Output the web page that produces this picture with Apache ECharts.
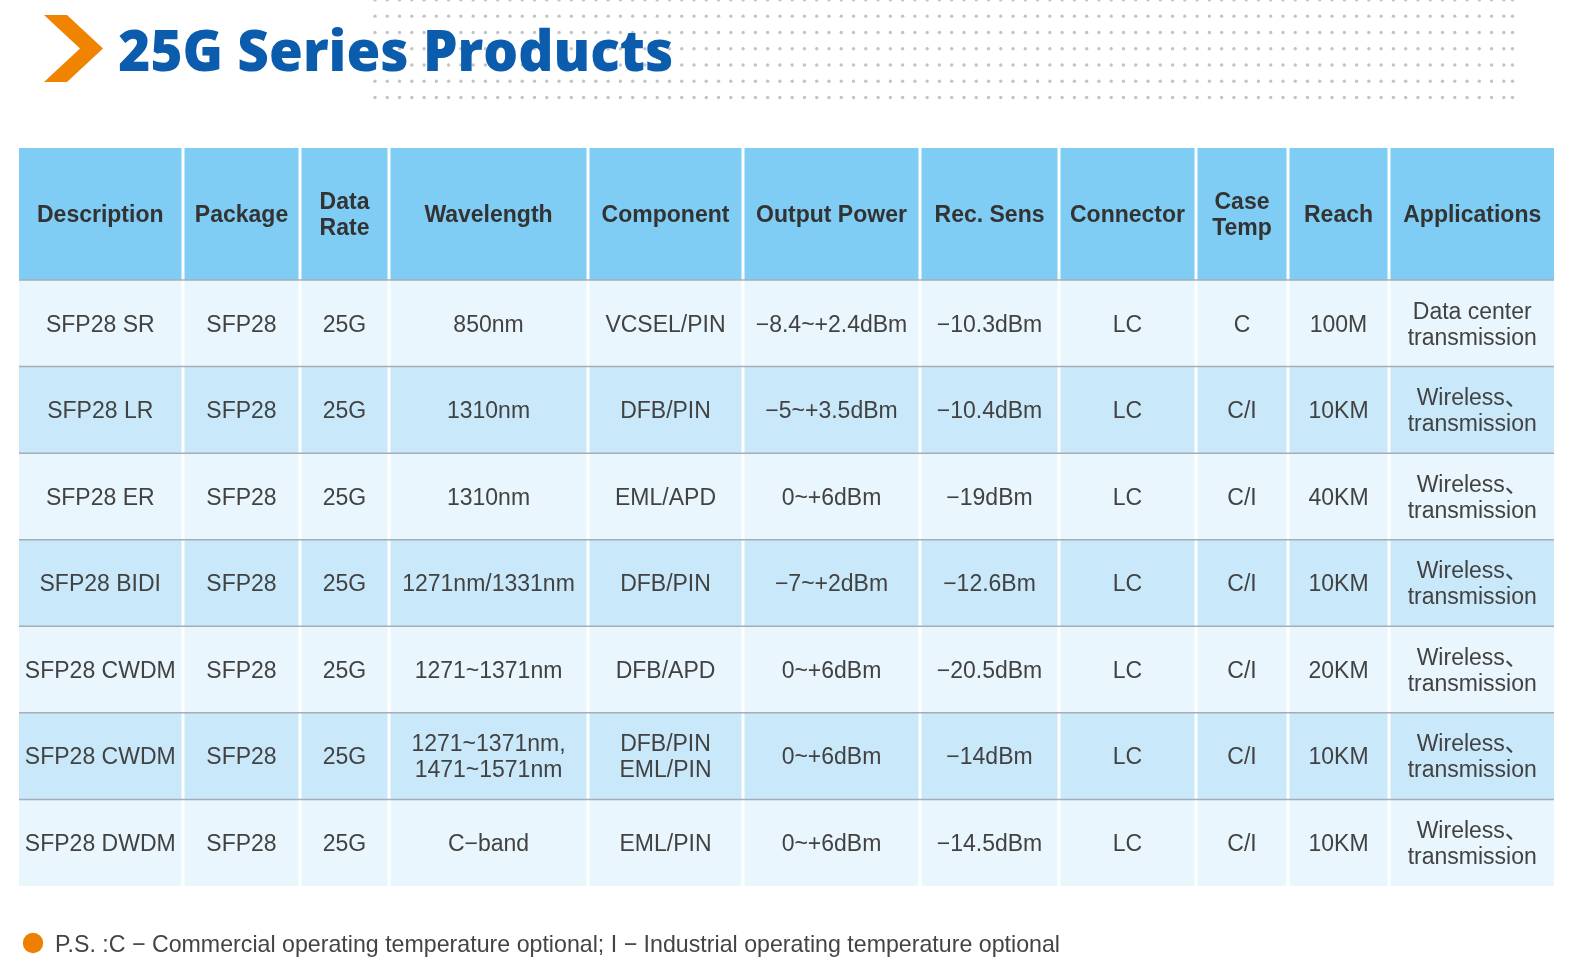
<!DOCTYPE html>
<html>
<head>
<meta charset="utf-8">
<script src="https://cdn.jsdelivr.net/npm/echarts@6/dist/echarts.min.js"></script>
<style>
html, body { margin: 0; padding: 0; background: #fff; }
#main { width: 1579px; height: 972px; }
</style>
</head>
<body>
<div id="main"></div>
<script>
// table content
var headers = ['Description', 'Package', 'Data\nRate', 'Wavelength', 'Component', 'Output Power', 'Rec. Sens', 'Connector', 'Case\nTemp', 'Reach', 'Applications'];
var description = ['SFP28 SR', 'SFP28 LR', 'SFP28 ER', 'SFP28 BIDI', 'SFP28 CWDM', 'SFP28 CWDM', 'SFP28 DWDM'];
var packageType = ['SFP28', 'SFP28', 'SFP28', 'SFP28', 'SFP28', 'SFP28', 'SFP28'];
var dataRate = ['25G', '25G', '25G', '25G', '25G', '25G', '25G'];
var wavelength = ['850nm', '1310nm', '1310nm', '1271nm/1331nm', '1271~1371nm', '1271~1371nm,\n1471~1571nm', 'C\u2212band'];
var component = ['VCSEL/PIN', 'DFB/PIN', 'EML/APD', 'DFB/PIN', 'DFB/APD', 'DFB/PIN\nEML/PIN', 'EML/PIN'];
var outputPower = ['\u22128.4~+2.4dBm', '\u22125~+3.5dBm', '0~+6dBm', '\u22127~+2dBm', '0~+6dBm', '0~+6dBm', '0~+6dBm'];
var recSens = ['\u221210.3dBm', '\u221210.4dBm', '\u221219dBm', '\u221212.6Bm', '\u221220.5dBm', '\u221214dBm', '\u221214.5dBm'];
var connector = ['LC', 'LC', 'LC', 'LC', 'LC', 'LC', 'LC'];
var caseTemp = ['C', 'C/I', 'C/I', 'C/I', 'C/I', 'C/I', 'C/I'];
var reach = ['100M', '10KM', '40KM', '10KM', '20KM', '10KM', '10KM'];
var applications = ['Data center\ntransmission', 'Wireless\u3001\ntransmission', 'Wireless\u3001\ntransmission', 'Wireless\u3001\ntransmission', 'Wireless\u3001\ntransmission', 'Wireless\u3001\ntransmission', 'Wireless\u3001\ntransmission'];

var titleText = '25G Series Products';
var noteText = 'P.S. :C \u2212 Commercial operating temperature optional; I \u2212 Industrial operating temperature optional';

var columns = [description, packageType, dataRate, wavelength, component, outputPower, recSens, connector, caseTemp, reach, applications];
var rowIds = description.map(function (d, i) { return String(i); });

// column edges in table pixels (layout only)
var colEdges = [0, 164, 281, 370, 569, 724, 901, 1040, 1177, 1269, 1370, 1535];
var GAP = 3;
var TEXT_DY = 2;
var cellFont = '23px "Liberation Sans", Arial, "Noto Sans CJK SC", sans-serif';
var headFont = 'bold 23px "Liberation Sans", Arial, sans-serif';
var titleFont = '800 56px "Open Sans"';
var noteFont = '24px "Liberation Sans", Arial, sans-serif';

var bodyData = [];
columns.forEach(function (col, c) {
    col.forEach(function (v, r) { bodyData.push([c, r]); });
});
var headData = headers.map(function (h, c) { return [c, 0]; });

function cellBox(api) {
    var c = api.value(0), r = api.value(1);
    var a = api.coord([colEdges[c], r]);
    var b = api.coord([colEdges[c + 1], r]);
    var h = api.size([0, 1])[1];
    return {
        c: c, r: r, cy: a[1], top: a[1] - h / 2, h: h, left: a[0], right: b[0],
        x0: a[0] + (c > 0 ? GAP / 2 : 0),
        x1: b[0] - (c < headers.length - 1 ? GAP / 2 : 0)
    };
}

function renderBody(params, api) {
    var b = cellBox(api);
    return {
        type: 'group',
        children: [
            { type: 'rect', shape: { x: b.x0, y: b.top, width: b.x1 - b.x0, height: b.h },
              style: { fill: b.r % 2 ? '#c9e9fb' : '#e9f6fd' } },
            { type: 'line', z2: 10, shape: { x1: b.left, y1: b.top, x2: b.right, y2: b.top },
              style: { stroke: '#a4aeb6', lineWidth: 1.5 } },
            { type: 'text', z2: 11, style: {
                text: columns[b.c][b.r], x: (b.x0 + b.x1) / 2, y: b.cy + TEXT_DY,
                align: 'center', verticalAlign: 'middle', font: cellFont,
                fill: '#424242', lineHeight: 26 } }
        ]
    };
}

function renderHead(params, api) {
    var b = cellBox(api);
    return {
        type: 'group',
        children: [
            { type: 'rect', shape: { x: b.x0, y: b.top, width: b.x1 - b.x0, height: b.h },
              style: { fill: '#7fcdf4' } },
            { type: 'text', style: {
                text: headers[b.c], x: (b.x0 + b.x1) / 2, y: b.cy + TEXT_DY,
                align: 'center', verticalAlign: 'middle', font: headFont,
                fill: '#333333', lineHeight: 26 } }
        ]
    };
}

// measure text so the title and note fit the picture
var ctx = document.createElement('canvas').getContext('2d');
ctx.textBaseline = 'middle';
ctx.font = titleFont;
var titleM = ctx.measureText('H');
var titleScale = 555 / ctx.measureText(titleText).width;
var titleY = 70.5 - titleM.actualBoundingBoxDescent;
ctx.font = noteFont;
var noteM = ctx.measureText('P');
var noteScale = 1005 / ctx.measureText(noteText).width;
var noteY = 943.5 - (noteM.actualBoundingBoxDescent - noteM.actualBoundingBoxAscent) / 2;

var dots = [];
var dotX = [];
for (var j = 0; j < 93; j++) dotX.push(375 + j * 12.27);
dotX.push(1512.5);
for (var i = 0; i < 7; i++) {
    dotX.forEach(function (x) {
        dots.push({ type: 'circle', shape: { cx: x, cy: -0.1 + i * 16.27, r: 1.7 },
                    style: { fill: '#c3c3c3' }, z: 1 });
    });
}

var graphics = dots.concat([
    { type: 'polygon', z: 5,
      shape: { points: [[44, 15], [67, 15], [103, 48.5], [67, 82], [44, 82], [80, 48.5]] },
      style: { fill: '#f08300' } },
    { type: 'text', z: 10, x: 118.3, y: titleY, scaleX: titleScale,
      style: { text: titleText, font: titleFont, fill: '#0b5cad',
               align: 'left', verticalAlign: 'middle' } },
    { type: 'circle', z: 5, shape: { cx: 33, cy: 943, r: 10.2 }, style: { fill: '#ee7f00' } },
    { type: 'text', z: 10, x: 55, y: noteY, scaleX: noteScale,
      style: { text: noteText, font: noteFont, fill: '#444444',
               align: 'left', verticalAlign: 'middle' } }
]);

var dom = document.getElementById('main');
var myChart = echarts.init(dom);
var option = {
    animation: false,
    grid: [
        { left: 19, top: 148, width: 1535, height: 132 },
        { left: 19, top: 280, width: 1535, height: 606 }
    ],
    xAxis: [
        { gridIndex: 0, type: 'value', min: 0, max: 1535, show: false },
        { gridIndex: 1, type: 'value', min: 0, max: 1535, show: false }
    ],
    yAxis: [
        { gridIndex: 0, type: 'category', data: ['head'], show: false },
        { gridIndex: 1, type: 'category', data: rowIds, inverse: true, show: false }
    ],
    graphic: graphics,
    series: [
        { type: 'custom', xAxisIndex: 0, yAxisIndex: 0, renderItem: renderHead,
          encode: { x: -1, y: 1 }, data: headData, silent: true },
        { type: 'custom', xAxisIndex: 1, yAxisIndex: 1, renderItem: renderBody,
          encode: { x: -1, y: 1 }, data: bodyData, silent: true }
    ]
};
myChart.setOption(option, true);
</script>
</body>
</html>
